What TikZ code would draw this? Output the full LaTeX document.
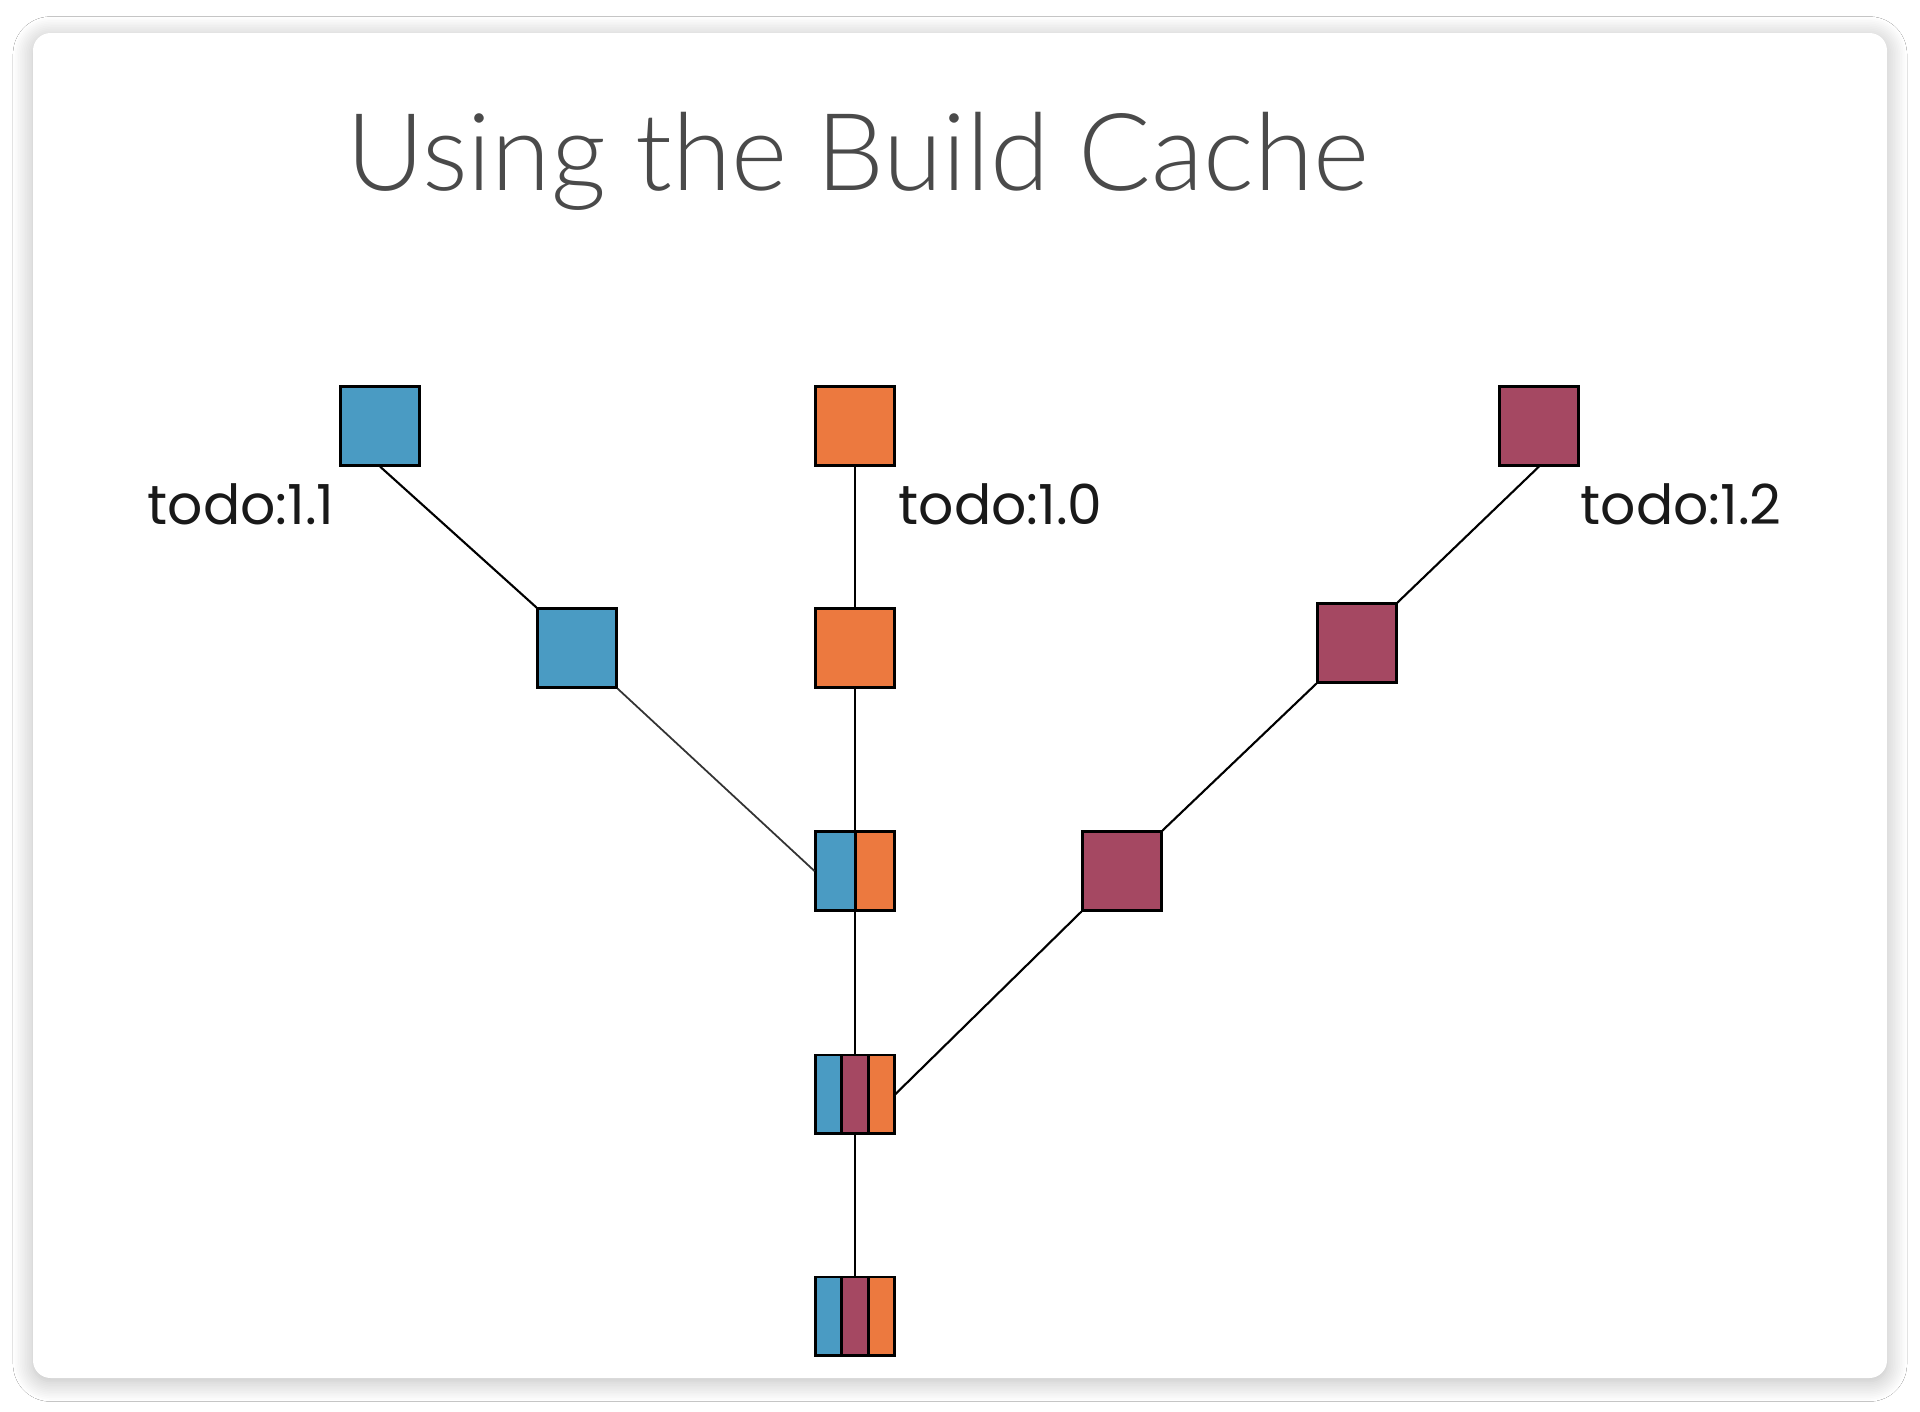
\documentclass[tikz,border=0pt]{standalone}
\usepackage{fontspec}
\IfFontExistsTF{Lato Light}{\newfontfamily\titlefont{Lato Light}}{\newfontfamily\titlefont{Lato}}
\newfontfamily\labelfont{Poppins}
\usetikzlibrary{
    positioning,
    calc,
    shadows.blur,
}
\definecolor{cacheblue}{HTML}{4A9BC3}
\definecolor{cacheorange}{HTML}{EC793F}
\definecolor{cachemaroon}{HTML}{A54862}
\definecolor{titlegray}{HTML}{4A4A4A}

\begin{document}
\begin{tikzpicture}[
    x=0.01cm, y=-0.01cm,
    build/.style={draw=black, line width=0.85pt, minimum size=0.78cm, inner sep=0pt},
    blueb/.style={build, fill=cacheblue},
    orangeb/.style={build, fill=cacheorange},
    maroonb/.style={build, fill=cachemaroon},
    mixtwo/.style={build, fill=cacheorange, path picture={
        \fill[cacheblue] (path picture bounding box.south west) rectangle (path picture bounding box.north);
        \draw[line width=0.85pt] (path picture bounding box.south) -- (path picture bounding box.north);}},
    mixthree/.style={build, fill=cachemaroon, path picture={
        \fill[cacheblue] (path picture bounding box.south west) rectangle ($(path picture bounding box.north west)!0.333!(path picture bounding box.north east)$);
        \fill[cacheorange] ($(path picture bounding box.south west)!0.667!(path picture bounding box.south east)$) rectangle (path picture bounding box.north east);
        \draw[line width=0.85pt] ($(path picture bounding box.south west)!0.333!(path picture bounding box.south east)$) -- ($(path picture bounding box.north west)!0.333!(path picture bounding box.north east)$);
        \draw[line width=0.85pt] ($(path picture bounding box.south west)!0.667!(path picture bounding box.south east)$) -- ($(path picture bounding box.north west)!0.667!(path picture bounding box.north east)$);}},
    link/.style={line width=0.6pt, black},
    tag/.style={anchor=base west, inner sep=0pt, font=\labelfont\fontsize{15.7}{18}\selectfont, text=black!90},
]

\useasboundingbox[fill=white] (0,0) rectangle (1920,1411);
\fill[white, rounded corners=5, blur shadow={shadow xshift=0pt, shadow yshift=-1pt, shadow blur radius=0.2cm, shadow blur steps=12, shadow opacity=28}] (33,33) rectangle (1887,1378);

\node[anchor=base west, inner sep=0pt, text=titlegray, font=\titlefont\fontsize{30.6}{36}\selectfont] (title) at (346,190) {Using the Build Cache};

% commits on each branch
\node[blueb] (b1) at (380,426) {};
\node[orangeb] (o1) at (855,426) {};
\node[maroonb] (m1) at (1539,426) {};
\node[blueb] (b2) at (577,648) {};
\node[orangeb] (o2) at (855,648) {};
\node[maroonb] (m2) at (1357,643) {};
\node[mixtwo] (bo) at (855,871) {};
\node[maroonb] (m3) at (1122,871) {};
\node[mixthree] (t1) at (855,1094) {};
\node[mixthree] (t2) at (855,1316) {};

\node[tag] (l11) at (147,524) {todo:1.1};
\node[tag] (l10) at (898,524) {todo:1.0};
\node[tag] (l12) at (1580,524) {todo:1.2};

\draw[link] (b1.south) -- (b2.north west);
\draw[link, black!80, line width=0.5pt] (b2.south east) -- (bo.west);
\draw[link] (o1.south) -- (o2.north);
\draw[link] (o2.south) -- (bo.north);
\draw[link] (bo.south) -- (t1.north);
\draw[link] (t1.south) -- (t2.north);
\draw[link] (m1.south) -- (m2.north east);
\draw[link] (m2.south west) -- (m3.north east);
\draw[link] (m3.south west) -- (t1.east);

\end{tikzpicture}
\end{document}
